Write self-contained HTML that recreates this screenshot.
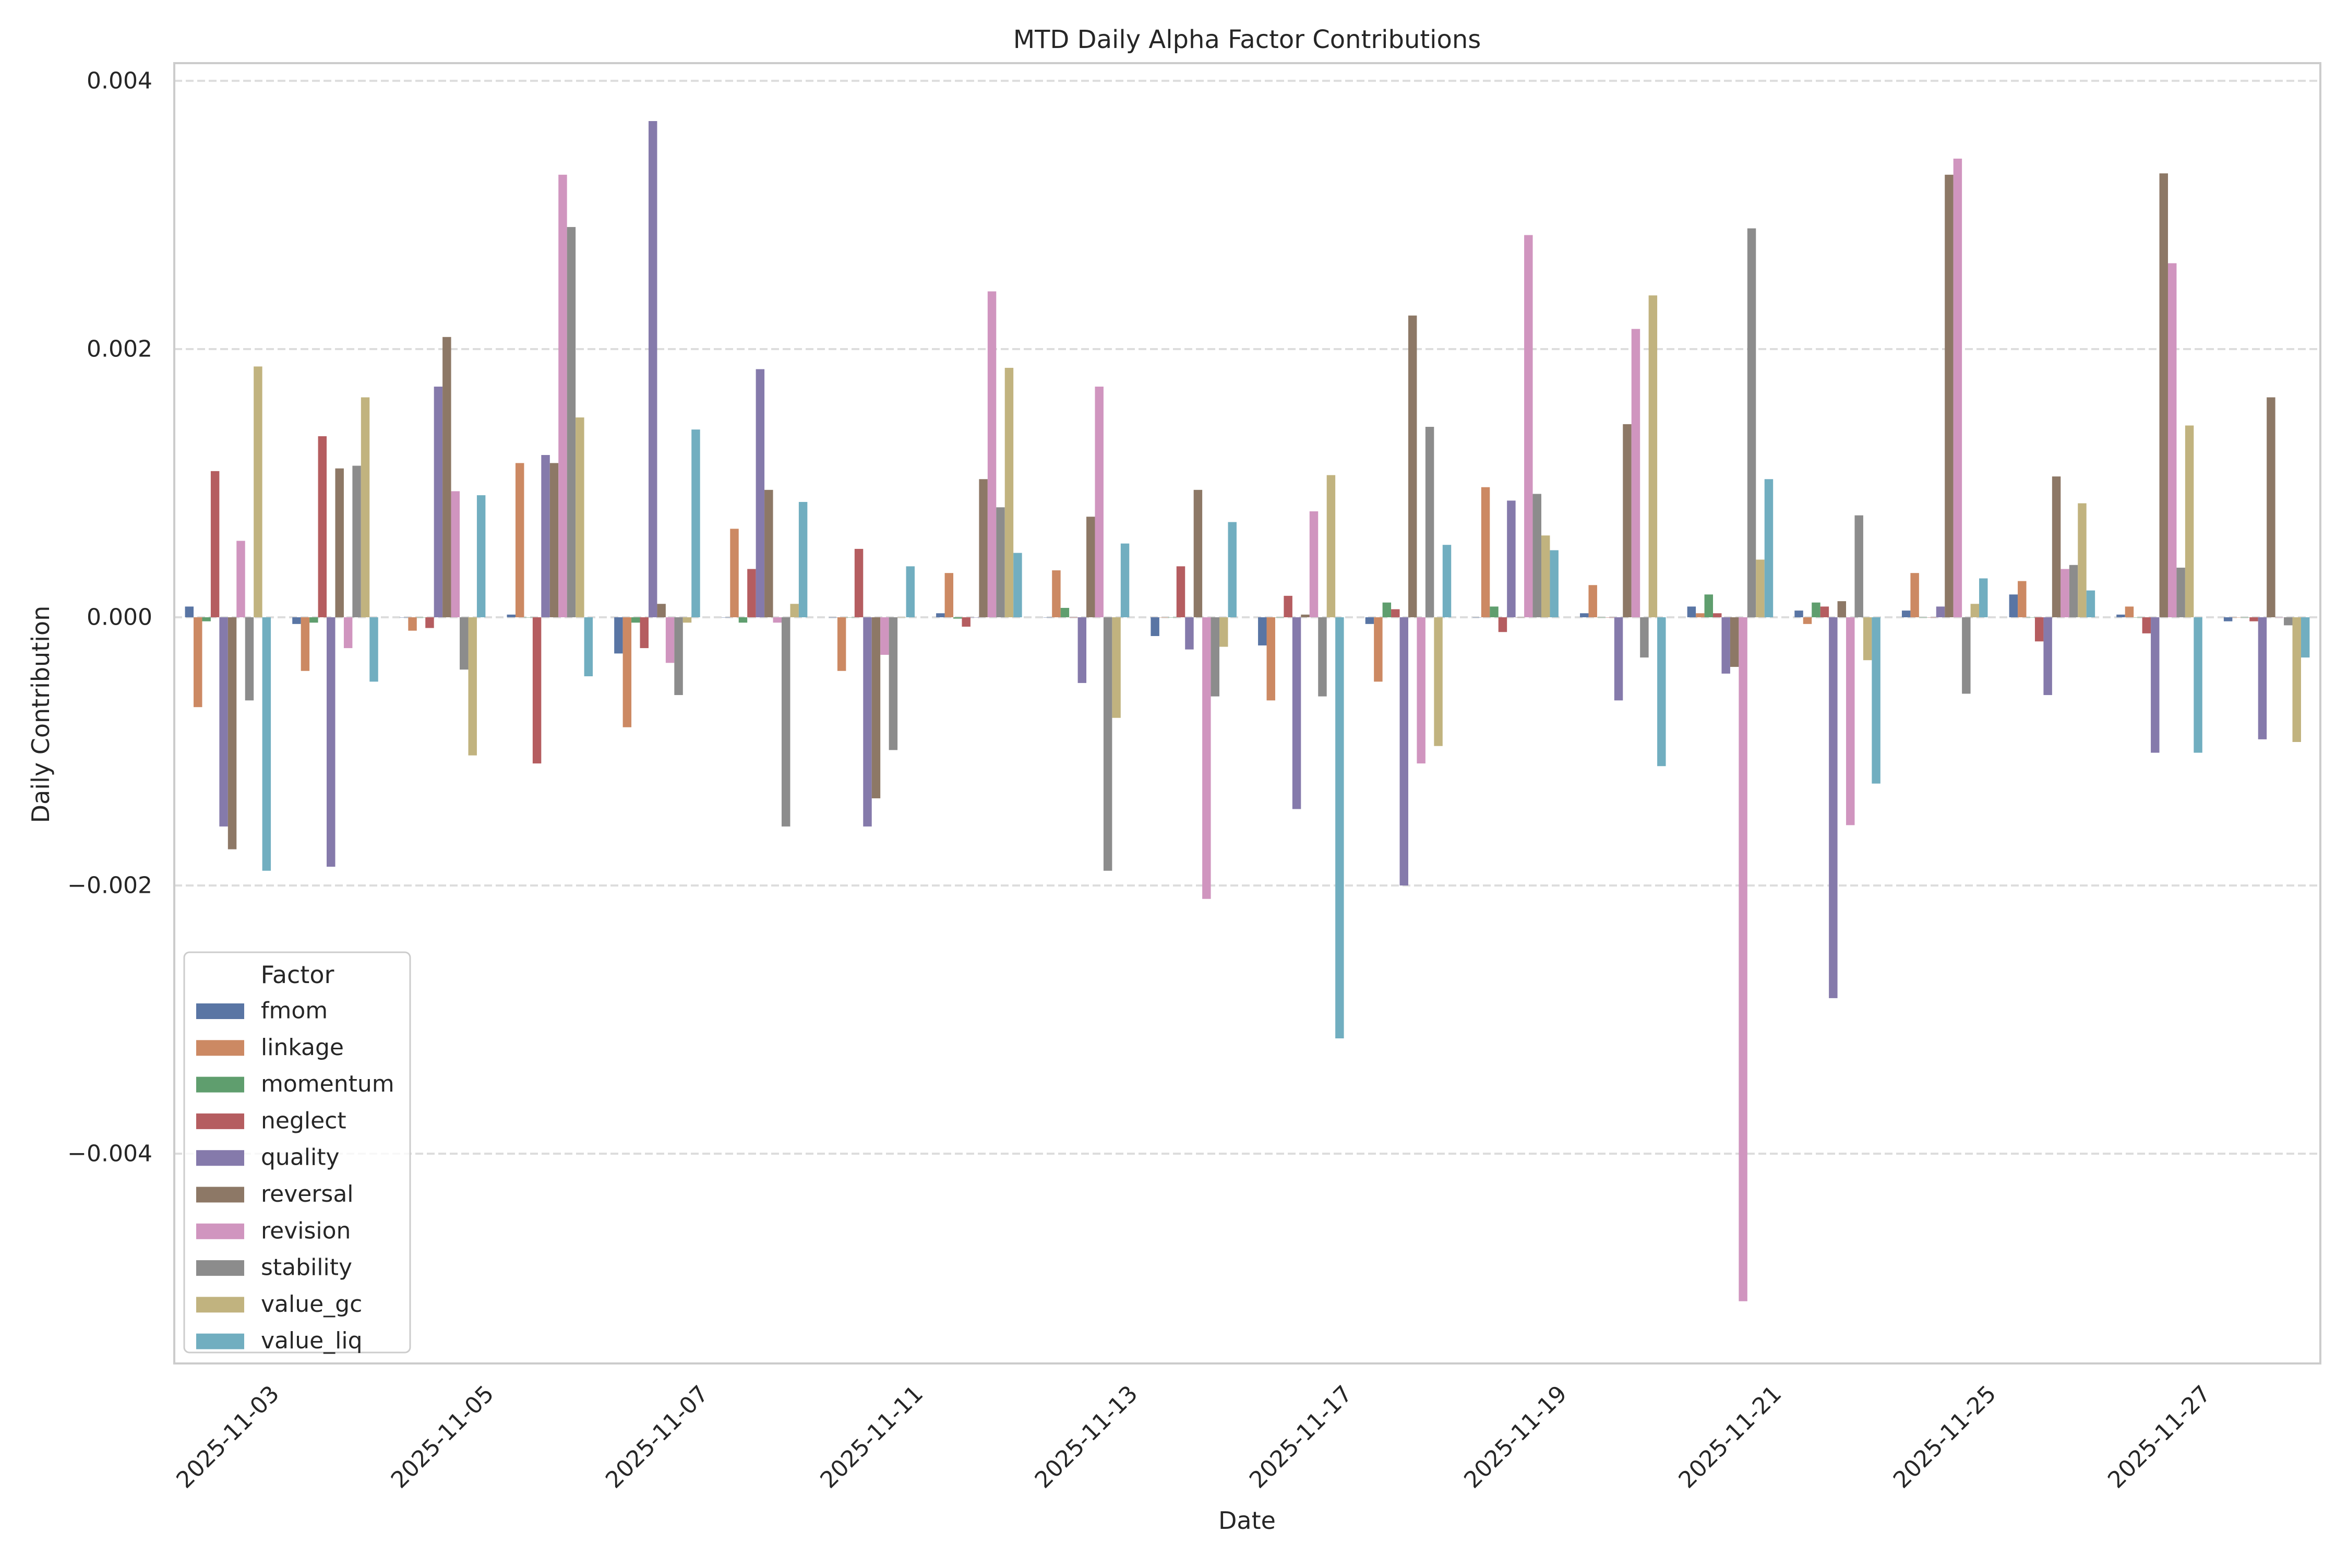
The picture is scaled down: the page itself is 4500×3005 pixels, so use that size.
<!DOCTYPE html>
<html><head><meta charset="utf-8"><style>
html,body{margin:0;padding:0;background:#fff}
svg text{font-family:"DejaVu Sans","Liberation Sans",sans-serif;fill:#262626}
</style></head><body>
<svg id="chart" xmlns="http://www.w3.org/2000/svg" width="4500" height="3000" viewBox="0 0 4500 3000">
<rect width="4500" height="3000" fill="#fff"/>
<g id="grid"></g>
<g id="bars"></g>
<rect x="334" y="121" width="4113" height="2492" fill="none" stroke="#cccccc" stroke-width="4"/>
<g id="yticks"></g>
<g id="xticks"></g>
<text x="2390" y="92" font-size="48" text-anchor="middle">MTD Daily Alpha Factor Contributions</text>
<text x="2390" y="2930" font-size="46" text-anchor="middle">Date</text>
<text x="0" y="0" font-size="46" text-anchor="middle" transform="translate(94,1369) rotate(-90)">Daily Contribution</text>
<g id="legend"></g>
</svg>
<script>
const dates=["2025-11-03","2025-11-04","2025-11-05","2025-11-06","2025-11-07","2025-11-10","2025-11-11","2025-11-12","2025-11-13","2025-11-14","2025-11-17","2025-11-18","2025-11-19","2025-11-20","2025-11-21","2025-11-24","2025-11-25","2025-11-26","2025-11-27","2025-11-28"];
const factors=["fmom","linkage","momentum","neglect","quality","reversal","revision","stability","value_gc","value_liq"];
const fmom=[0.00008,-0.00005,0,0.00002,-0.00027,0,0,0.00003,0,-0.00014,-0.00021,-0.00005,0,0.00003,0.00008,0.00005,0.00005,0.00017,0.00002,-0.00003];
const linkage=[-0.00067,-0.0004,-0.0001,0.00115,-0.00082,0.00066,-0.0004,0.00033,0.00035,0,-0.00062,-0.00048,0.00097,0.00024,0.00003,-0.00005,0.00033,0.00027,0.00008,0];
const momentum=[-0.00003,-0.00004,0,0,-0.00004,-0.00004,0,-0.00001,0.00007,0,0,0.00011,0.00008,0,0.00017,0.00011,0,0,0,0];
const neglect=[0.00109,0.00135,-0.00008,-0.00109,-0.00023,0.00036,0.00051,-0.00007,0,0.00038,0.00016,0.00006,-0.00011,0,0.00003,0.00008,0,-0.00018,-0.00012,-0.00003];
const quality=[-0.00156,-0.00186,0.00172,0.00121,0.0037,0.00185,-0.00156,0,-0.00049,-0.00024,-0.00143,-0.002,0.00087,-0.00062,-0.00042,-0.00284,0.00008,-0.00058,-0.00101,-0.00091];
const reversal=[-0.00173,0.00111,0.00209,0.00115,0.0001,0.00095,-0.00135,0.00103,0.00075,0.00095,0.00002,0.00225,0,0.00144,-0.00037,0.00012,0.0033,0.00105,0.00331,0.00164];
const revision=[0.00057,-0.00023,0.00094,0.0033,-0.00034,-0.00004,-0.00028,0.00243,0.00172,-0.0021,0.00079,-0.00109,0.00285,0.00215,-0.0051,-0.00155,0.00342,0.00036,0.00264,0];
const stability=[-0.00062,0.00113,-0.00039,0.00291,-0.00058,-0.00156,-0.00099,0.00082,-0.00189,-0.00059,-0.00059,0.00142,0.00092,-0.0003,0.0029,0.00076,-0.00057,0.00039,0.00037,-0.00006];
const value_gc=[0.00187,0.00164,-0.00103,0.00149,-0.00004,0.0001,0,0.00186,-0.00075,-0.00022,0.00106,-0.00096,0.00061,0.0024,0.00043,-0.00032,0.0001,0.00085,0.00143,-0.00093];
const value_liq=[-0.00189,-0.00048,0.00091,-0.00044,0.0014,0.00086,0.00038,0.00048,0.00055,0.00071,-0.00314,0.00054,0.0005,-0.00111,0.00103,-0.00124,0.00029,0.0002,-0.00101,-0.0003];
const yTicks=[0.004,0.002,0,-0.002,-0.004];
const yTickLabels=["0.004","0.002","0.000","\u22120.002","\u22120.004"];
const xTickIdx=[0,2,4,6,8,10,12,14,16,18];

const series=[fmom,linkage,momentum,neglect,quality,reversal,revision,stability,value_gc,value_liq];
const colors=["#5975a4","#cc8963","#5f9e6e","#b55d60","#857aab","#8d7866","#d095bf","#8c8c8c","#c1b37f","#71aec0"];
const L=334,R=4447,T=121,B=2613;
const yMin=-0.005564,yMax=0.004132;
const NS="http://www.w3.org/2000/svg";
function y(v){return T+(yMax-v)/(yMax-yMin)*(B-T);}
function x(i){return L+(i+0.5)/dates.length*(R-L);}
const unit=(R-L)/dates.length;
function mk(tag,attrs,parent){const e=document.createElementNS(NS,tag);for(const k in attrs)e.setAttribute(k,attrs[k]);parent.appendChild(e);return e;}

const grid=document.getElementById('grid');
const yt=document.getElementById('yticks');
yTicks.forEach((v,i)=>{
  const g=mk('line',{x1:L,x2:R,y1:y(v),y2:y(v),stroke:'#dddddd','stroke-width':4,'stroke-dasharray':'15 7'},grid);
  
  
  const t=mk('text',{x:292,y:y(v),'font-size':44,'text-anchor':'end','dominant-baseline':'central'},yt);
  t.textContent=yTickLabels[i];
  
  
});

const bars=document.getElementById('bars');
const bw=unit*0.8/factors.length;
series.forEach((s,f)=>{
  s.forEach((v,i)=>{
    const cx=x(i)+(f-4.5)*bw;
    const y0=y(0),y1=y(v);
    const r=mk('rect',{x:cx-bw/2,y:Math.min(y0,y1),width:bw,height:Math.max(Math.abs(y1-y0),0.5),fill:colors[f]},bars);
    
    
  });
});

const xt=document.getElementById('xticks');
xTickIdx.forEach(i=>{
  const t=mk('text',{x:0,y:0,'font-size':44,'text-anchor':'middle','dominant-baseline':'central',transform:'translate('+x(i)+',2754) rotate(-45)'},xt);
  t.textContent=dates[i];
  
  
});

const lg=document.getElementById('legend');
const box=mk('rect',{x:353,y:1825,width:433,height:767,rx:10,fill:'#fff','fill-opacity':0.8,stroke:'#cccccc','stroke-width':3},lg);


const lt=mk('text',{x:570,y:1868,'font-size':46,'text-anchor':'middle','dominant-baseline':'central'},lg);
lt.textContent='Factor';


factors.forEach((f,k)=>{
  const cy=1937+k*70.3;
  const p=mk('rect',{x:376,y:cy-14,width:92,height:30,fill:colors[k]},lg);
  
  
  const t=mk('text',{x:500,y:cy,'font-size':44,'dominant-baseline':'central'},lg);
  t.textContent=f;
  
  
});
</script>
</body></html>
